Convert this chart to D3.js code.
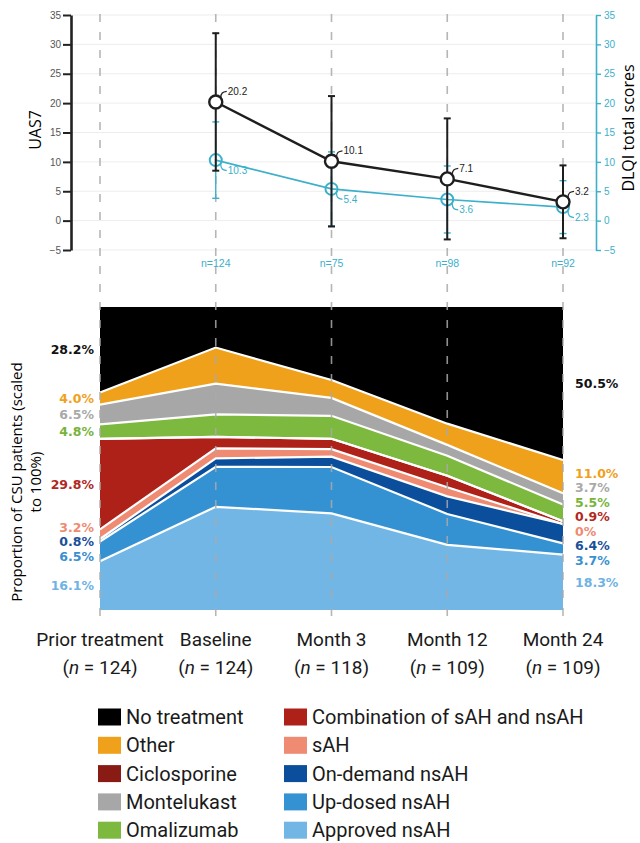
<!DOCTYPE html>
<html>
<head>
<meta charset="utf-8">
<script src="https://cdn.jsdelivr.net/npm/d3@7"></script>
<style>
  html, body { margin: 0; padding: 0; background: #fff; }
  svg { display: block; }
</style>
</head>
<body>
<svg id="chart" width="640" height="843"></svg>
<script>
// ---- Data ----
const timepoints = ["Prior treatment", "Baseline", "Month 3", "Month 12", "Month 24"];
const sampleSizes = [124, 124, 118, 109, 109];

// Score follow-up (Baseline .. Month 24)
const scoreTimepoints = ["Baseline", "Month 3", "Month 12", "Month 24"];
const scoreN = [124, 75, 98, 92];
const uas7Mean = [20.2, 10.1, 7.1, 3.2];
const uas7Sd = [11.7, 11.1, 10.3, 6.2];
const dlqiMean = [10.3, 5.4, 3.6, 2.3];
const dlqiSd = [6.5, 6.3, 5.7, 4.5];
const scoreTicks = [-5, 0, 5, 10, 15, 20, 25, 30, 35];

// Treatment shares (%) per timepoint
const noTreatment = [28.2, 13.4, 24.1, 38.5, 50.5];
const other = [4.0, 11.9, 5.9, 7.0, 11.0];
const ciclosporine = [0, 0, 0, 0, 0];
const montelukast = [6.5, 10.2, 5.9, 3.6, 3.7];
const omalizumab = [4.8, 7.4, 7.6, 6.6, 5.5];
const combination = [29.8, 3.8, 3.4, 3.8, 0.9];
const sAH = [3.2, 3.3, 2.5, 3.0, 0];
const onDemand = [0.8, 2.8, 3.4, 5.8, 6.4];
const upDosed = [6.5, 13.2, 15.3, 10.2, 3.7];
const approved = [16.1, 34.1, 31.9, 21.5, 18.3];

const treatmentSeries = [
  { key: "approved", name: "Approved nsAH", values: approved, color: "#72b6e6", labelColor: "#6fb3e4" },
  { key: "upDosed", name: "Up-dosed nsAH", values: upDosed, color: "#3592d2", labelColor: "#3a8fd0" },
  { key: "onDemand", name: "On-demand nsAH", values: onDemand, color: "#0b4e9b", labelColor: "#1a4f9a" },
  { key: "sAH", name: "sAH", values: sAH, color: "#ef8a73", labelColor: "#ef8a73" },
  { key: "combination", name: "Combination of sAH and nsAH", values: combination, color: "#ad2119", labelColor: "#b0281e" },
  { key: "ciclosporine", name: "Ciclosporine", values: ciclosporine, color: "#8a1a14", labelColor: "#8a1a14" },
  { key: "omalizumab", name: "Omalizumab", values: omalizumab, color: "#7db83f", labelColor: "#78b43c" },
  { key: "montelukast", name: "Montelukast", values: montelukast, color: "#a7a7a7", labelColor: "#a9a9a9" },
  { key: "other", name: "Other", values: other, color: "#efa11c", labelColor: "#efa11c" },
  { key: "noTreatment", name: "No treatment", values: noTreatment, color: "#000000", labelColor: "#111111" }
];
const legendLeft = ["noTreatment", "other", "ciclosporine", "montelukast", "omalizumab"];
const legendRight = ["combination", "sAH", "onDemand", "upDosed", "approved"];

// ---- Layout ----
const svg = d3.select("#chart");
const x = d3.scalePoint().domain(timepoints).range([100, 563]);
const yScore = d3.scaleLinear().domain([-5, 35]).range([250, 15]);
const yShare = d3.scaleLinear().domain([0, 1]).range([610, 307]);
const cyan = "#3cb0cb";
const uiFont = "Roboto, 'Noto Sans', sans-serif";
const tickFont = "'Liberation Sans', Arial, sans-serif";

// Horizontal grid of the score panel
svg.append("g").selectAll("line").data(scoreTicks).join("line")
  .attr("x1", 71).attr("x2", 596)
  .attr("y1", d => yScore(d)).attr("y2", d => yScore(d))
  .attr("stroke", "#ededed").attr("stroke-width", 1);

// ---- Stacked treatment shares ----
const rows = timepoints.map((t, i) => {
  const r = { t };
  treatmentSeries.forEach(s => { r[s.key] = s.values[i]; });
  return r;
});
const stacked = d3.stack()
  .keys(treatmentSeries.map(s => s.key))
  .offset(d3.stackOffsetExpand)(rows);

const area = d3.area()
  .x(d => x(d.data.t))
  .y0(d => yShare(d[0]))
  .y1(d => yShare(d[1]));
const topLine = d3.line()
  .x(d => x(d.data.t))
  .y(d => yShare(d[1]));

const gArea = svg.append("g");
gArea.selectAll("path.layer").data(stacked).join("path")
  .attr("class", "layer")
  .attr("d", area)
  .attr("fill", (d, i) => treatmentSeries[i].color);
gArea.selectAll("path.sep").data(stacked.slice(0, stacked.length - 1)).join("path")
  .attr("class", "sep")
  .attr("d", topLine)
  .attr("fill", "none")
  .attr("stroke", "#ffffff")
  .attr("stroke-width", 2.2);

// Vertical dashed guides for each timepoint
svg.append("g").selectAll("line").data(timepoints).join("line")
  .attr("x1", d => x(d)).attr("x2", d => x(d))
  .attr("y1", 14).attr("y2", 622)
  .attr("stroke", "#a9a9a9").attr("stroke-opacity", 0.85)
  .attr("stroke-width", 1.6)
  .attr("stroke-dasharray", "8,10");

// Value labels beside the stacked areas, spread apart where they crowd
function spreadLabels(items, gap) {
  items.sort((a, b) => a.y - b.y);
  for (let it = 0; it < 300; it++) {
    let moved = false;
    for (let k = 1; k < items.length; k++) {
      const a = items[k - 1], b = items[k];
      const d = b.y - a.y;
      if (d < gap - 0.01) {
        const push = (gap - d) / 2;
        a.y -= push; b.y += push; moved = true;
      }
    }
    if (!moved) break;
  }
  return items;
}
function fmtPct(v) { return v === 0 ? "0%" : v.toFixed(1) + "%"; }

function sideLabels(idx, xPos, anchor) {
  const items = [];
  stacked.forEach((layer, i) => {
    const s = treatmentSeries[i];
    if (s.key === "ciclosporine") return;
    const p = layer[idx];
    items.push({ y: yShare((p[0] + p[1]) / 2), text: fmtPct(s.values[idx]), color: s.labelColor });
  });
  spreadLabels(items, 14.5);
  svg.append("g").selectAll("text").data(items).join("text")
    .attr("x", xPos).attr("y", d => d.y)
    .attr("dy", "0.36em")
    .attr("text-anchor", anchor)
    .attr("font-family", "'DejaVu Sans', Verdana, sans-serif")
    .attr("font-weight", "bold")
    .attr("font-size", 12.5)
    .attr("fill", d => d.color)
    .text(d => d.text);
}
sideLabels(0, 94, "end");
sideLabels(timepoints.length - 1, 575, "start");

// ---- Score panel axes ----
const axL = svg.append("g").attr("transform", "translate(71,0)")
  .call(d3.axisLeft(yScore).tickValues(scoreTicks).tickSize(8).tickSizeOuter(0).tickPadding(2));
axL.select(".domain").attr("stroke", "#222").attr("stroke-width", 2.6);
axL.selectAll(".tick line").attr("stroke", "#222").attr("stroke-width", 2);
axL.selectAll(".tick text").attr("font-family", tickFont).attr("font-size", 10).attr("fill", "#555");

const axR = svg.append("g").attr("transform", "translate(596,0)")
  .call(d3.axisRight(yScore).tickValues(scoreTicks).tickSize(5).tickSizeOuter(0).tickPadding(3));
axR.select(".domain").attr("stroke", cyan).attr("stroke-width", 1.6);
axR.selectAll(".tick line").attr("stroke", cyan).attr("stroke-width", 1.4);
axR.selectAll(".tick text").attr("font-family", tickFont).attr("font-size", 10).attr("fill", cyan);

svg.append("text")
  .attr("transform", "translate(41,130) rotate(-90)")
  .attr("text-anchor", "middle")
  .attr("font-family", "'Open Sans', sans-serif").attr("font-size", 16).attr("fill", "#000")
  .text("UAS7");
svg.append("text")
  .attr("transform", "translate(634,128) rotate(-90)")
  .attr("text-anchor", "middle")
  .attr("font-family", "'Open Sans', sans-serif").attr("font-size", 16).attr("fill", "#000")
  .text("DLQI total scores");

// ---- Score series ----
const scoreRows = scoreTimepoints.map((t, i) => ({
  t, n: scoreN[i],
  uas: uas7Mean[i], uasSd: uas7Sd[i],
  dlqi: dlqiMean[i], dlqiSd: dlqiSd[i]
}));
const gScore = svg.append("g");

function errorBars(g, key, sdKey, color, width) {
  const capHalf = 3.5;
  const bars = g.append("g").selectAll("g").data(scoreRows).join("g");
  bars.append("line")
    .attr("x1", d => x(d.t)).attr("x2", d => x(d.t))
    .attr("y1", d => yScore(d[key] + d[sdKey])).attr("y2", d => yScore(d[key] - d[sdKey]))
    .attr("stroke", color).attr("stroke-width", width);
  [1, -1].forEach(sign => {
    bars.append("line")
      .attr("x1", d => x(d.t) - capHalf).attr("x2", d => x(d.t) + capHalf)
      .attr("y1", d => yScore(d[key] + sign * d[sdKey])).attr("y2", d => yScore(d[key] + sign * d[sdKey]))
      .attr("stroke", color).attr("stroke-width", width);
  });
}
const lineOf = key => d3.line().x(d => x(d.t)).y(d => yScore(d[key]));

errorBars(gScore, "dlqi", "dlqiSd", cyan, 1.4);
gScore.append("path").datum(scoreRows)
  .attr("d", lineOf("dlqi")).attr("fill", "none")
  .attr("stroke", cyan).attr("stroke-width", 1.6);
gScore.selectAll("circle.dlqi").data(scoreRows).join("circle")
  .attr("class", "dlqi")
  .attr("cx", d => x(d.t)).attr("cy", d => yScore(d.dlqi)).attr("r", 6)
  .attr("fill", "none").attr("stroke", cyan).attr("stroke-width", 2);

errorBars(gScore, "uas", "uasSd", "#1e1e1e", 2);
gScore.append("path").datum(scoreRows)
  .attr("d", lineOf("uas")).attr("fill", "none")
  .attr("stroke", "#1e1e1e").attr("stroke-width", 2.4);
gScore.selectAll("circle.uas").data(scoreRows).join("circle")
  .attr("class", "uas")
  .attr("cx", d => x(d.t)).attr("cy", d => yScore(d.uas)).attr("r", 6.5)
  .attr("fill", "#fff").attr("stroke", "#1e1e1e").attr("stroke-width", 2.4);

// Value callouts with small hooked leaders
function callouts(key, color, dir) {
  const g = gScore.append("g");
  g.selectAll("path").data(scoreRows).join("path")
    .attr("d", d => {
      const cx = x(d.t), cy = yScore(d[key]);
      return `M${cx + 5},${cy + dir * 4} C${cx + 5},${cy + dir * 9} ${cx + 7},${cy + dir * 10} ${cx + 11},${cy + dir * 10.5}`;
    })
    .attr("fill", "none").attr("stroke", color).attr("stroke-width", 1.3);
  g.selectAll("text").data(scoreRows).join("text")
    .attr("x", d => x(d.t) + 12)
    .attr("y", d => yScore(d[key]) + dir * 10.5)
    .attr("dy", "0.35em")
    .attr("font-family", tickFont).attr("font-size", 10)
    .attr("fill", color)
    .text(d => d[key].toFixed(1));
}
callouts("uas", "#222", -1);
callouts("dlqi", cyan, 1);

// Number of patients with score data
svg.append("g").selectAll("text").data(scoreRows).join("text")
  .attr("x", d => x(d.t)).attr("y", 267)
  .attr("text-anchor", "middle")
  .attr("font-family", tickFont).attr("font-size", 10.5)
  .attr("fill", cyan)
  .text(d => "n=" + d.n);

// ---- Share panel titles ----
const yTitle = svg.append("text")
  .attr("transform", "translate(22,482) rotate(-90)")
  .attr("text-anchor", "middle")
  .attr("font-family", "'Open Sans', sans-serif").attr("font-size", 15).attr("fill", "#000");
yTitle.append("tspan").attr("x", 0).attr("dy", 0).text("Proportion of CSU patients (scaled");
yTitle.append("tspan").attr("x", 0).attr("dy", 19).text("to 100%)");

const xLab = svg.append("g").selectAll("text").data(timepoints).join("text")
  .attr("text-anchor", "middle")
  .attr("font-family", uiFont).attr("font-size", 19).attr("fill", "#1a1a1a");
xLab.append("tspan").attr("x", d => x(d)).attr("y", 646).text(d => d);
xLab.each(function (d, i) {
  const t = d3.select(this).append("tspan").attr("x", x(d)).attr("y", 674);
  t.append("tspan").text("(");
  t.append("tspan").attr("font-style", "italic").text("n");
  t.append("tspan").text(" = " + sampleSizes[i] + ")");
});

// ---- Legend ----
function legendColumn(keys, x0) {
  const g = svg.append("g");
  const items = keys.map(k => treatmentSeries.find(s => s.key === k));
  const row = g.selectAll("g").data(items).join("g")
    .attr("transform", (d, i) => `translate(${x0},${717 + i * 28.3})`);
  row.append("rect")
    .attr("x", 0).attr("y", -8.5).attr("width", 23).attr("height", 17)
    .attr("fill", d => d.color);
  row.append("text")
    .attr("x", 28).attr("y", 0).attr("dy", "0.35em")
    .attr("font-family", uiFont).attr("font-size", 20).attr("fill", "#1a1a1a")
    .text(d => d.name);
}
legendColumn(legendLeft, 98);
legendColumn(legendRight, 284);
</script>
</body>
</html>
